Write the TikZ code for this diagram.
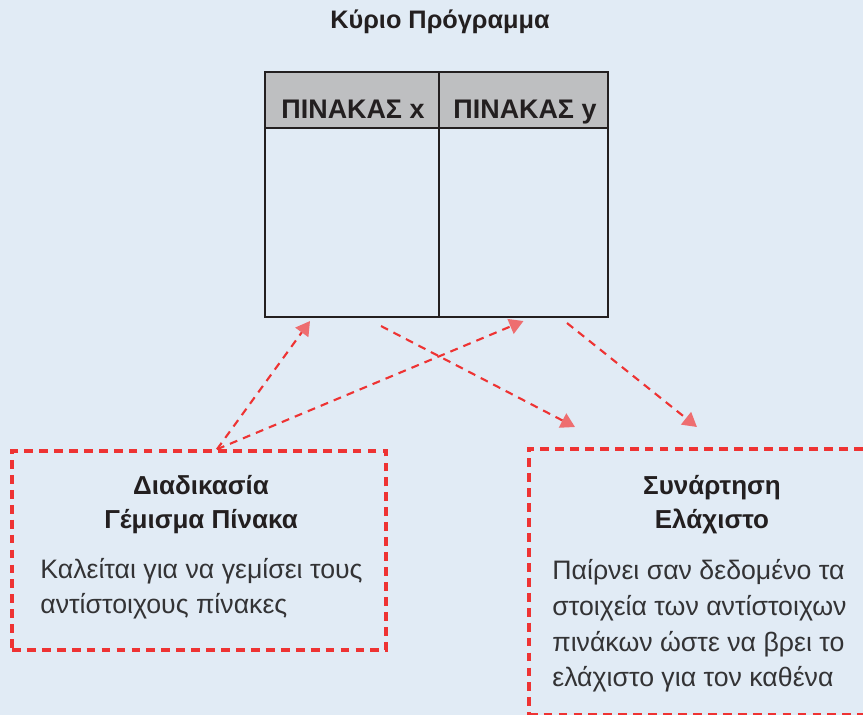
\documentclass[tikz,border=0pt]{standalone}
\usepackage{fontspec}
\setmainfont{Liberation Sans}
\usetikzlibrary{arrows.meta}
\definecolor{bgblue}{HTML}{E1EBF5}
\definecolor{dashred}{HTML}{EE3333}
\definecolor{tipred}{HTML}{EE6E70}
\definecolor{hdrgray}{HTML}{BEBFC1}
\definecolor{inkdark}{HTML}{231F20}
\definecolor{inksoft}{HTML}{333335}
\tikzset{
  cell/.style={draw=inkdark, line width=1.2pt, inner sep=0pt},
  hdrcell/.style={cell, fill=hdrgray},
  hdrtext/.style={anchor=base, font=\fontsize{15.3}{18}\selectfont\bfseries, text=inkdark},
  callbox/.style={draw=dashred, line width=2pt, dash pattern=on 5pt off 3.5pt, inner sep=0pt},
  boxtitle/.style={anchor=base, align=center, inner sep=0pt, font=\fontsize{14.8}{19.8}\selectfont\bfseries, text=inkdark},
  boxtext/.style={anchor=base west, align=left, inner sep=0pt, font=\fontsize{15.2}{20.3}\selectfont, text=inksoft},
  callarrow/.style={draw=dashred, line width=1.2pt, dash pattern=on 4.5pt off 3.5pt,
    -{Triangle[length=8pt,width=9pt,color=tipred]}}
}
\begin{document}
\begin{tikzpicture}[x=0.02cm,y=-0.02cm]
\useasboundingbox (0,0) rectangle (863,715);
\clip (0,0) rectangle (863,715);
\fill[bgblue] (0,0) rectangle (863,715);

% main program and its two tables
\node[font=\fontsize{14.4}{17}\selectfont\bfseries, text=inkdark, anchor=base] (main) at (440,29) {Κύριο Πρόγραμμα};
\node[hdrcell, minimum width=3.48cm, minimum height=1.12cm] (hx) at (352,100) {};
\node[hdrcell, minimum width=3.38cm, minimum height=1.12cm] (hy) at (523.5,100) {};
\node[cell, minimum width=3.48cm, minimum height=3.78cm] (bx) at (352,222.5) {};
\node[cell, minimum width=3.38cm, minimum height=3.78cm] (by) at (523.5,222.5) {};
\node[hdrtext] (hxtext) at (353,119) {ΠΙΝΑΚΑΣ x};
\node[hdrtext] (hytext) at (525,119) {ΠΙΝΑΚΑΣ y};

% procedure and function
\node[callbox, minimum width=7.48cm, minimum height=3.98cm] (lbox) at (199,550.5) {};
\node[callbox, anchor=north west, minimum width=7.4cm, minimum height=5.32cm] (rbox) at (527,447) {};
\node[boxtitle] (ltitle) at (201,529) {Διαδικασία\\Γέμισμα Πίνακα};
\node[boxtext] (ltext) at (40,614) {Καλείται για να γεμίσει τους\\αντίστοιχους πίνακες};
\node[boxtitle] (rtitle) at (712,529) {Συνάρτηση\\Ελάχιστο};
\node[boxtext] (rtext) at (552,687) {Παίρνει σαν δεδομένο τα\\στοιχεία των αντίστοιχων\\πινάκων ώστε να βρει το\\ελάχιστο για τον καθένα};

% calls
\draw[callarrow] ([xshift=0.36cm]lbox.north) -- ([xshift=-0.84cm,yshift=-0.06cm]bx.south);
\draw[callarrow] ([xshift=0.36cm]lbox.north) -- ([yshift=-0.06cm]by.south);
\draw[callarrow] ([xshift=0.58cm,yshift=-0.16cm]bx.south) -- ([xshift=0.96cm,yshift=0.4cm]rbox.north west);
\draw[callarrow] ([xshift=0.87cm,yshift=-0.1cm]by.south) -- ([xshift=3.4cm,yshift=0.4cm]rbox.north west);
\end{tikzpicture}
\end{document}
